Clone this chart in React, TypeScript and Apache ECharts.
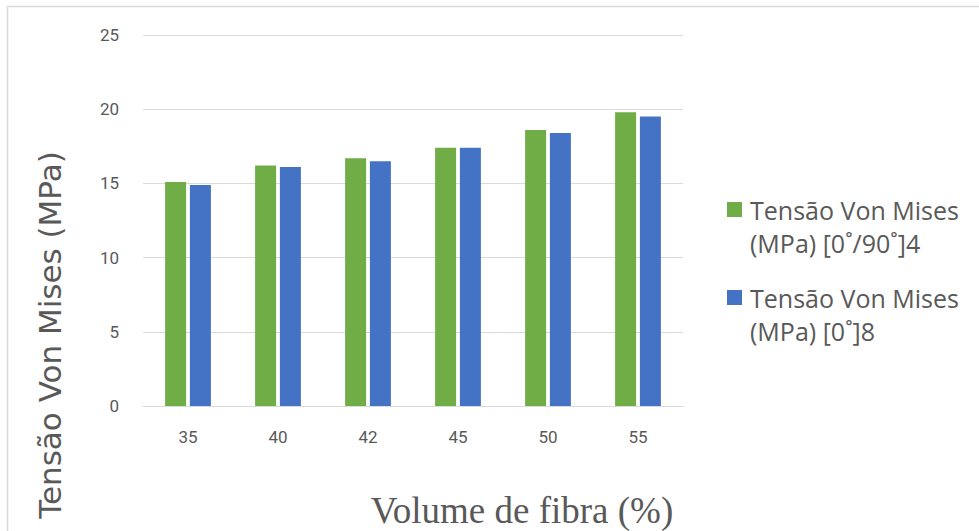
import React, { useEffect, useRef } from "react";
import * as echarts from "echarts";

const categories = ["35", "40", "42", "45", "50", "55"];
const seriesCrossPly = [15.1, 16.2, 16.7, 17.4, 18.6, 19.8];
const seriesUniaxial = [14.9, 16.1, 16.5, 17.4, 18.4, 19.5];
const seriesNames = [
  "Tensão Von Mises (MPa) [0˚/90˚]4",
  "Tensão Von Mises (MPa) [0˚]8",
];
const yTicks = { min: 0, max: 25, interval: 5 };

const TEXT = "#595959";
const GRID = "#d9d9d9";

// square legend marker sitting at the top of a taller box, so it lines up with the first text line
const legendIcon = "path://M0,0h15v15h-15z M0,48h0.01";

export default function App() {
  const ref = useRef<HTMLDivElement>(null);

  useEffect(() => {
    if (!ref.current) return;
    const chart = echarts.init(ref.current, undefined, { renderer: "svg" });
    chart.setOption({
      animation: false,
      backgroundColor: "#ffffff",
      grid: { left: 143, right: 296, top: 35, bottom: 125, outerBoundsMode: "none", containLabel: false },
      legend: {
        orient: "vertical",
        left: 722,
        top: 188,
        itemWidth: 15,
        itemHeight: 48,
        itemGap: 22,
        icon: legendIcon,
        data: seriesNames,
        formatter: (name: string) => name.replace("Mises ", "Mises\n"),
        textStyle: {
          color: TEXT,
          fontFamily: "Open Sans, Noto Sans, sans-serif",
          fontSize: 25,
          lineHeight: 33,
          padding: [0, 0, 0, 3],
        },
      },
      xAxis: {
        type: "category",
        data: categories,
        name: "Volume de fibra (%)",
        nameLocation: "middle",
        nameGap: 86,
        nameTextStyle: {
          color: TEXT,
          fontFamily: "Liberation Serif, Times New Roman, serif",
          fontSize: 37,
          padding: [0, 0, 0, 218],
        },
        axisLine: { lineStyle: { color: GRID, width: 1 } },
        axisTick: { show: false },
        axisLabel: {
          color: TEXT,
          fontFamily: "Roboto, sans-serif",
          fontSize: 17,
          margin: 22,
        },
      },
      yAxis: {
        type: "value",
        min: yTicks.min,
        max: yTicks.max,
        interval: yTicks.interval,
        name: "Tensão Von Mises (MPa)",
        nameLocation: "middle",
        nameGap: 78,
        nameTextStyle: {
          color: TEXT,
          fontFamily: "DejaVu Sans, sans-serif",
          fontSize: 31,
          padding: [0, 0, 0, -229],
        },
        axisLine: { show: false },
        axisTick: { show: false },
        splitLine: { lineStyle: { color: GRID, width: 1 } },
        axisLabel: {
          color: TEXT,
          fontFamily: "Roboto, sans-serif",
          fontSize: 17,
          margin: 24,
        },
      },
      graphic: [
        {
          type: "rect",
          shape: { x: 7.5, y: 6.5, width: 1000, height: 600 },
          style: { fill: "none", stroke: GRID, lineWidth: 1.5 },
          silent: true,
        },
      ],
      series: [
        {
          name: seriesNames[0],
          type: "bar",
          data: seriesCrossPly,
          barWidth: 21,
          barGap: "18%",
          itemStyle: { color: "#70ad47" },
        },
        {
          name: seriesNames[1],
          type: "bar",
          data: seriesUniaxial,
          barWidth: 21,
          itemStyle: { color: "#4472c4" },
        },
      ],
    });
    return () => chart.dispose();
  }, []);

  return <div ref={ref} style={{ width: 979, height: 531, position: "absolute", left: 0, top: 0 }} />;
}
